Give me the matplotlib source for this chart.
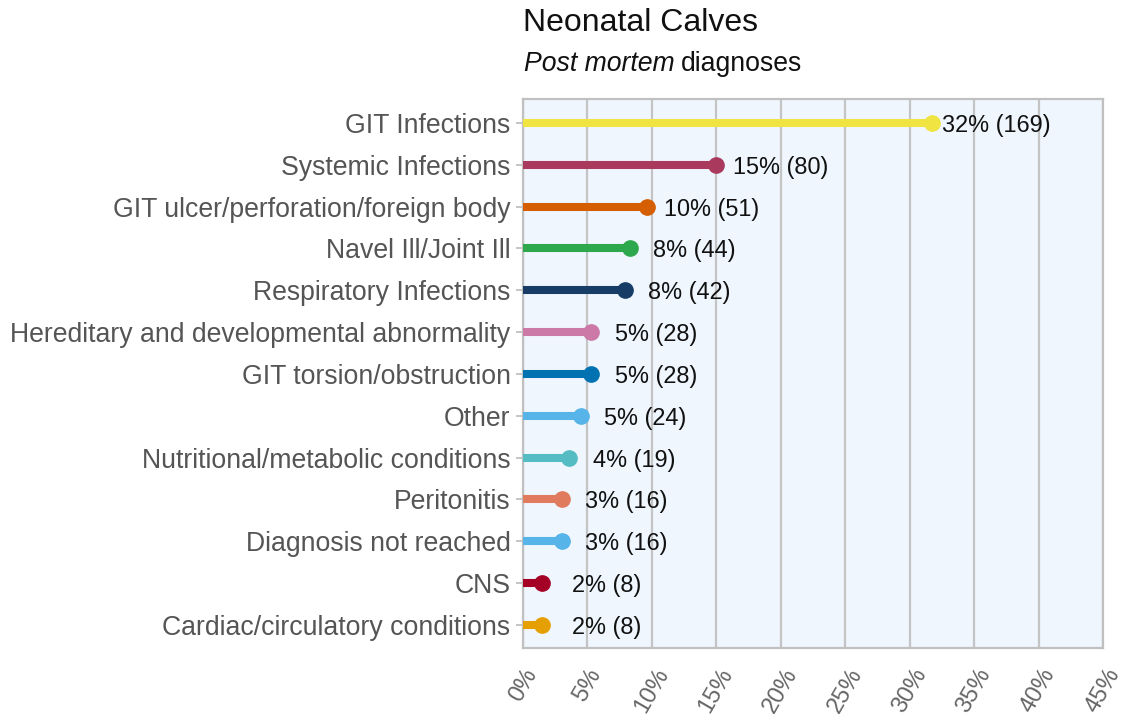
import matplotlib
matplotlib.use("Agg")
import matplotlib.pyplot as plt

plt.rcParams['font.family'] = ['Liberation Sans', 'DejaVu Sans']

categories = [
    "GIT Infections",
    "Systemic Infections",
    "GIT ulcer/perforation/foreign body",
    "Navel Ill/Joint Ill",
    "Respiratory Infections",
    "Hereditary and developmental abnormality",
    "GIT torsion/obstruction",
    "Other",
    "Nutritional/metabolic conditions",
    "Peritonitis",
    "Diagnosis not reached",
    "CNS",
    "Cardiac/circulatory conditions",
]
percents = [31.7, 15.0, 9.6, 8.3, 7.9, 5.3, 5.3, 4.5, 3.6, 3.0, 3.0, 1.5, 1.5]
counts = [169, 80, 51, 44, 42, 28, 28, 24, 19, 16, 16, 8, 8]
pct_labels = ["32%", "15%", "10%", "8%", "8%", "5%", "5%", "5%", "4%", "3%", "3%", "2%", "2%"]
colors = ["#f0e442", "#a93a5e", "#d55e00", "#2ea84c", "#173c66", "#cc79a7",
          "#0072b2", "#56b4e9", "#55bcc4", "#e07b5e", "#56b4e9", "#a50026", "#e69f00"]
xticks = [0, 5, 10, 15, 20, 25, 30, 35, 40, 45]
xtick_labels = ["0%", "5%", "10%", "15%", "20%", "25%", "30%", "35%", "40%", "45%"]

fig = plt.figure(figsize=(11.23, 7.17), dpi=100)
ax = fig.add_axes([523/1123, 1 - 648/717, 580/1123, (648-99)/717])
ax.set_facecolor("#eff6fe")

for i, (p, c) in enumerate(zip(percents, colors)):
    ax.plot([0, p], [i, i], color=c, lw=5.8, solid_capstyle='butt', zorder=3)
    ax.plot([p], [i], 'o', color=c, markersize=11, zorder=4)
    ax.text(p + 5, i, f"{pct_labels[i]} ({counts[i]})", ha='center', va='center_baseline',
            fontsize=16.9, color="#111111", zorder=5)

ax.set_xlim(0, 45)
ax.set_ylim(len(categories) - 0.45, -0.57)
ax.set_yticks(range(len(categories)))
ax.set_yticklabels(categories, fontsize=19.2, color="#555555")
ax.set_xticks(xticks)
ax.set_xticklabels(xtick_labels, fontsize=17, color="#666666", rotation=60, ha='center')
ax.tick_params(axis='x', length=0, pad=12)
ax.tick_params(axis='y', length=5, color="#bbbbbb", width=1.2, pad=4)
ax.grid(axis='x', color="#c4c4c4", lw=1.6, zorder=1)
ax.set_axisbelow(True)
for s in ax.spines.values():
    s.set_color("#c0c0c0")
    s.set_linewidth(1.6)

fig.text(523/1123, 1 - 23/717, "Neonatal Calves", fontsize=23, color="#111111", va='center', ha='left')
t1 = fig.text(524/1123, 1 - 64/717, "Post mortem", fontsize=19.2, style='italic', color="#111111", va='center', ha='left')
fig.canvas.draw()
bb = t1.get_window_extent()
fig.text(bb.x1 / fig.bbox.width + 6/1123, 1 - 64/717, "diagnoses", fontsize=19.2, color="#111111", va='center', ha='left')

fig.savefig("out.png", dpi=100)
